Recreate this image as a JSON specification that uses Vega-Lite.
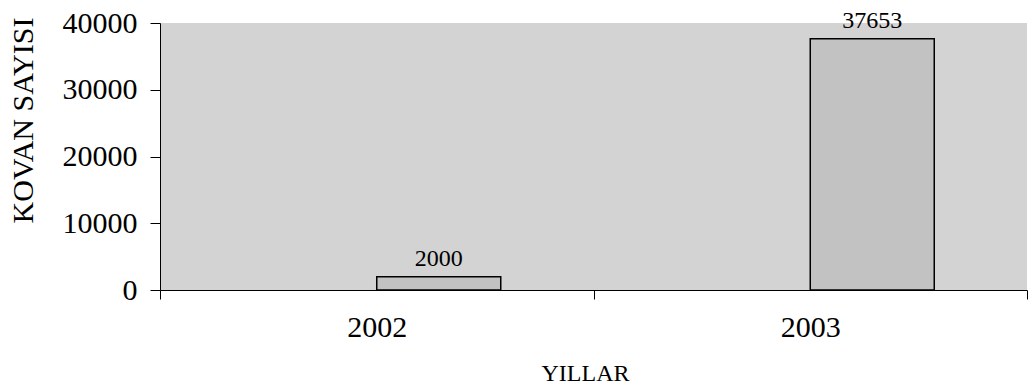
{
  "$schema": "https://vega.github.io/schema/vega-lite/v6.json",
  "width": 867,
  "height": 267,
  "autosize": "none",
  "padding": {"left": 160, "top": 23, "right": 1, "bottom": 96},
  "background": "white",
  "config": {
    "view": {"fill": "#d3d3d3", "stroke": null},
    "font": "'Liberation Serif', 'Times New Roman', serif"
  },
  "data": {
    "values": [
      {"yil": "2002", "seri": "b", "kovan": 2000},
      {"yil": "2003", "seri": "b", "kovan": 37653}
    ]
  },
  "encoding": {
    "x": {
      "field": "yil", "type": "nominal",
      "scale": {"paddingInner": 0, "paddingOuter": 0},
      "axis": {
        "title": "YILLAR", "labelAngle": 0, "tickBand": "extent",
        "domainColor": "black", "tickColor": "black", "tickSize": 9,
        "labelFontSize": 30, "labelColor": "black", "labelPadding": 13,
        "labelFont": "'Liberation Serif', 'Times New Roman', serif",
        "titleFont": "'Liberation Serif', 'Times New Roman', serif",
        "titleFontSize": 24, "titleFontWeight": "normal", "titleColor": "black",
        "titleX": 425, "titleY": 90, "titleBaseline": "alphabetic", "titleAlign": "center"
      }
    },
    "xOffset": {
      "field": "seri", "type": "nominal",
      "scale": {"domain": ["a", "b"], "paddingInner": 0, "paddingOuter": 0.748}
    },
    "y": {
      "field": "kovan", "type": "quantitative",
      "scale": {"domain": [0, 40000], "nice": false},
      "axis": {
        "title": "KOVAN SAYISI", "values": [0, 10000, 20000, 30000, 40000],
        "grid": false, "format": "d",
        "domainColor": "black", "tickColor": "black", "tickSize": 10,
        "labelFontSize": 30, "labelColor": "black", "labelPadding": 13,
        "labelFont": "'Liberation Serif', 'Times New Roman', serif",
        "titleFont": "'Liberation Serif', 'Times New Roman', serif",
        "titleFontSize": 30, "titleFontWeight": "normal", "titleColor": "black",
        "titleX": -128, "titleY": 97, "titleBaseline": "alphabetic", "titleAlign": "center", "titleAngle": -90
      }
    }
  },
  "layer": [
    {
      "mark": {"type": "bar", "fill": "#c2c2c2", "stroke": "black", "strokeWidth": 1.5}
    },
    {
      "mark": {"type": "text", "fontSize": 24, "baseline": "alphabetic", "dy": -11, "color": "black", "font": "'Liberation Serif', 'Times New Roman', serif"},
      "encoding": {"text": {"field": "kovan", "type": "quantitative", "format": "d"}}
    }
  ]
}
